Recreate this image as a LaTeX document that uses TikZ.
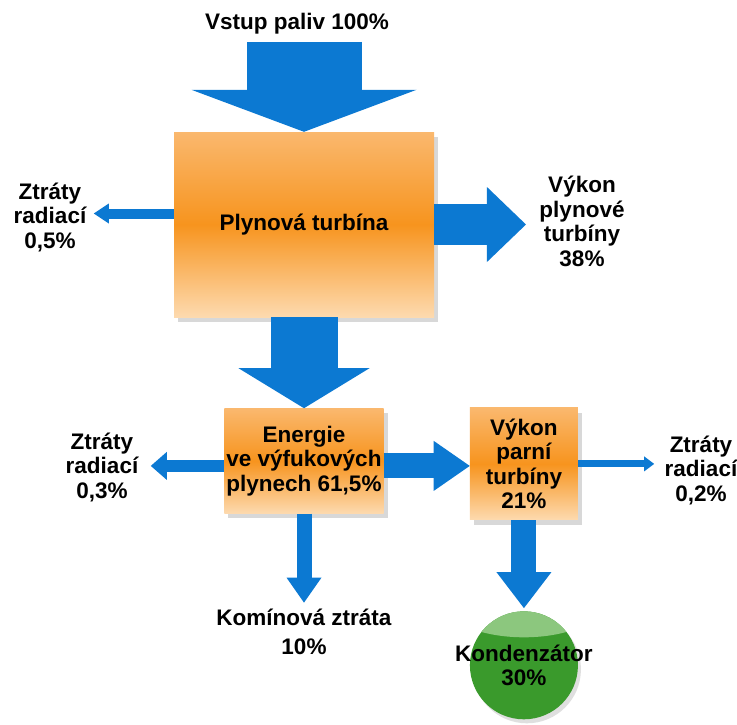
\documentclass[tikz,border=0pt]{standalone}
\usepackage{fontspec}
\setmainfont{Liberation Sans}
\usetikzlibrary{arrows.meta, positioning, shadows}

\definecolor{flowblue}{RGB}{12,121,210}
\definecolor{boxtop}{RGB}{250,184,110}
\definecolor{boxmid}{RGB}{247,148,30}
\definecolor{boxbot}{RGB}{253,218,175}
\definecolor{kondark}{RGB}{58,154,44}
\definecolor{konlight}{RGB}{140,199,126}

\tikzset{
  txt/.style={font=\fontsize{22.5}{24.5}\selectfont\bfseries, align=center},
  stagebox/.style={txt, rectangle, inner sep=2pt,
        top color=boxtop, bottom color=boxbot, middle color=boxmid,
        drop shadow={shadow xshift=4pt, shadow yshift=-5pt, opacity=.3}},
  flow/.style={draw=flowblue},
}

\begin{document}
\begin{tikzpicture}[x=1pt, y=-1pt]
    \path[use as bounding box, fill=white] (0,0) rectangle (737,724);

    % Add the stages
        \node[txt] (vstup) at (297,24) {Vstup paliv 100\%};
        \node[stagebox,
              minimum width=260pt,
              minimum height=185pt] (gt) at (304,224.5) {Plynová turbína};
        \node[stagebox,
              below=91pt of gt,
              minimum width=157pt,
              minimum height=105pt] (ex) {Energie\\ve výfukových\\plynech 61,5\%};
        \node[stagebox,
              right=86pt of ex,
              yshift=-3pt,
              minimum width=108pt,
              minimum height=112pt] (st) {Výkon\\parní\\turbíny\\21\%};
        \node[txt,
              circle,
              below=91pt of st,
              inner sep=0pt,
              minimum size=108pt,
              fill=kondark,
              drop shadow={shadow xshift=3pt, shadow yshift=-4pt, opacity=.25},
              path picture={\fill[konlight] ([yshift=9pt]path picture bounding box.north) ellipse (80pt and 35pt);}]
              (kon) {\makebox[0pt]{Kondenzátor}\\30\%};

    % Add the labels
        \node[txt] (zr1) at (50,217) {Ztráty\\radiací\\0,5\%};
        \node[txt] (vgt) at (582,221.5) {Výkon\\plynové\\turbíny\\38\%};
        \node[txt] (zr2) at (102,467) {Ztráty\\radiací\\0,3\%};
        \node[txt] (zr3) at (701,470) {Ztráty\\radiací\\0,2\%};
        \node[txt, font=\fontsize{22.5}{29}\selectfont\bfseries] (kz) at (304,632) {Komínová ztráta\\10\%};

    % Add the flows
        \coordinate (in) at ([yshift=90pt]gt.north);
        \draw[flow, line width=115pt, -{Triangle[width=225pt, length=42pt, line width=0pt]}]
            (in) -- (gt.north);
        \draw[flow, line width=67pt, -{Triangle[width=131pt, length=40pt, line width=0pt]}]
            (gt.south) -- (ex.north);
        \draw[flow, line width=10pt, shorten >=4pt, -{Triangle[width=20pt, length=15pt, line width=0pt]}]
            ([yshift=11pt]gt.west) -- ([yshift=11pt]gt.west -| zr1.east);
        \draw[flow, line width=41pt, shorten >=10pt, -{Triangle[width=75pt, length=39pt, line width=0pt]}]
            (gt.east) -- (gt.east -| vgt.west);
        \draw[flow, line width=12pt, shorten >=9pt, -{Triangle[width=28pt, length=16pt, line width=0pt]}]
            ([yshift=-5pt]ex.west) -- ([yshift=-5pt]ex.west -| zr2.east);
        \draw[flow, line width=25pt, -{Triangle[width=50pt, length=36pt, line width=0pt]}]
            ([yshift=-5pt]ex.east) -- ([yshift=-5pt]ex.east -| st.west);
        \draw[flow, line width=7pt, shorten >=7pt, -{Triangle[width=15pt, length=10pt, line width=0pt]}]
            (st.east) -- (st.east -| zr3.west);
        \draw[flow, line width=15pt, shorten >=3pt, -{Triangle[width=35pt, length=25pt, line width=0pt]}]
            (ex.south) -- (kz.north);
        \draw[flow, line width=25pt, shorten >=3pt, -{Triangle[width=55pt, length=36pt, line width=0pt]}]
            (st.south) -- (kon.north);
\end{tikzpicture}
\end{document}
